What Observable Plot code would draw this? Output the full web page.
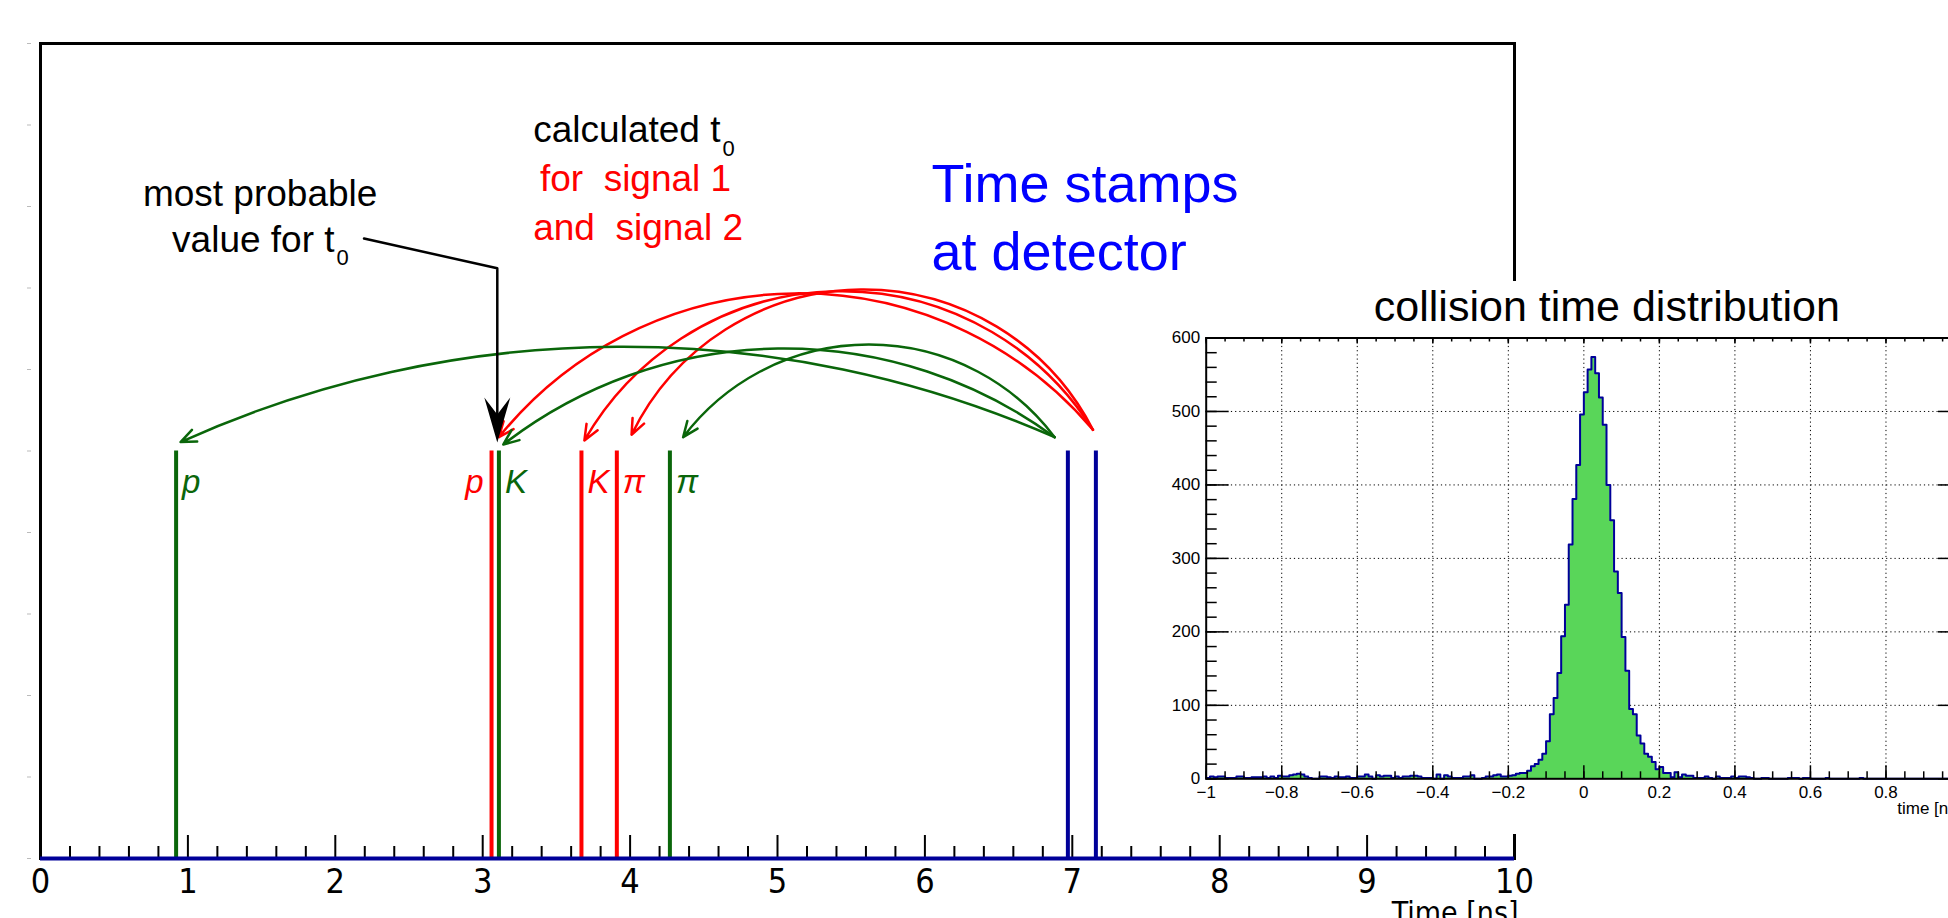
<!DOCTYPE html>
<html><head><meta charset="utf-8">
<script src="https://cdn.jsdelivr.net/npm/d3@7"></script>
<script src="https://cdn.jsdelivr.net/npm/@observablehq/plot@0.6"></script>
<style>
html,body{margin:0;padding:0;background:#fff;overflow:hidden;}
#wrap{position:relative;width:1948px;height:918px;overflow:hidden;background:#fff;}
#main,#inset{position:absolute;}
#main{left:0;top:0;width:1948px;height:918px;}
#inset{left:1140px;top:281px;width:835px;height:553px;}
#wrap svg{max-width:none !important;}
svg text{white-space:pre;}
</style></head>
<body><div id="wrap"><div id="main"></div><div id="inset"></div></div>
<script>
// ---------- data: time stamps (ns) ----------
const signalTime   = [0.92, 3.06, 3.11, 3.67, 3.91, 4.27, 6.97, 7.16];
const signalSeries = ["signal2", "signal1", "signal2", "signal1", "signal1", "signal2", "detector", "detector"];
const signalLabel  = ["p", "p", "K", "K", "π", "π", "", ""];
const signalHeight = 5;

// ---------- data: arcs from detector stamps to calculated t0 ----------
const arcSeries    = ["signal1", "signal1", "signal1", "signal2", "signal2", "signal2"];
const arcFromTime  = [7.14, 7.14, 7.14, 6.88, 6.88, 6.88];
const arcFromLevel = [5.26, 5.26, 5.26, 5.17, 5.17, 5.17];
const arcToTime    = [3.11, 3.69, 4.01, 0.95, 3.14, 4.36];
const arcToLevel   = [5.17, 5.13, 5.20, 5.11, 5.08, 5.17];

// ---------- data: collision time histogram ----------
const histStart = -1, histBinWidth = 0.01;
const histCounts = [
 1,3,2,3,3,1,1,1,3,3, 1,1,2,2,2,3,1,3,1,4, 3,3,5,6,7,6,3,1,0,0, 3,3,2,1,3,2,2,3,1,1,
 3,3,6,3,0,5,3,4,4,1, 3,1,3,3,4,4,3,1,1,1, 0,6,0,5,3,1,1,1,3,3, 5,0,0,1,3,3,5,6,3,3,
 4,5,7,8,8,11,17,20,26,34, 51,88,110,144,194,237,319,381,427,496,
 526,557,574,552,519,482,400,352,282,253, 193,147,95,88,59,48,34,30,23,13,
 16,8,8,2,9,2,6,4,
 4,1,1,1,3,1,0,3,1,1, 1,3,1,3,3,2,1,0,0,1, 1,0,0,0,0,0,1,1,1,0, 1,1,0,0,0,0,1,0,0,0,
 0,0,0,0,0,1,0,0,0,0, 0,0,0,0,0,0,0,0,0,0, 0,0,0,0,0,0,0,0,0,0, 0,0
];

// ---------- tick labels ----------
const mainTicks  = [0,1,2,3,4,5,6,7,8,9,10];
const insetXTicks = [-1,-0.8,-0.6,-0.4,-0.2,0,0.2,0.4,0.6,0.8,1];
const insetYTicks = [0,100,200,300,400,500,600];

// ---------- annotations ----------
const notes = [
  {text:"most probable", t:1.49, v:8.01, size:37, color:"black", anchor:"middle", dx:0},
  {text:"value for t",   t:1.995, v:7.44, size:37, color:"black", anchor:"end", dx:0},
  {text:"0",             t:1.995, v:7.28, size:22, color:"black", anchor:"start", dx:2},
  {text:"calculated t",  t:4.613, v:8.79, size:37, color:"black", anchor:"end", dx:0},
  {text:"0",             t:4.613, v:8.625, size:22, color:"black", anchor:"start", dx:2},
  {text:"for  signal 1", t:4.037, v:8.196, size:37, color:"#ff0000", anchor:"middle", dx:0},
  {text:"and  signal 2", t:4.054, v:7.583, size:37, color:"#ff0000", anchor:"middle", dx:0},
  {text:"Time stamps",   t:6.045, v:8.053, size:54, color:"#0000ff", anchor:"start", dx:0},
  {text:"at detector",   t:6.045, v:7.215, size:54, color:"#0000ff", anchor:"start", dx:0}
];
const pointerPath = [{t:2.195, v:7.607}, {t:3.099, v:7.242}, {t:3.099, v:5.45}];
const pointerTip = [{t:3.099, v:5.105}];

// ---------- styles ----------
const COLOR = {signal1:"#ff0000", signal2:"#0a660a", detector:"#000099"};
const arcBend = [-50.5, -59, -63.5, -24, -37, -53];
const labelSide = ["right","left","right","right","right","right","",""];
const labelLevel = 4.49;
const mainFont = "'Liberation Sans', Arial, Helvetica, sans-serif";
const axisFont = "'DejaVu Sans Condensed', 'DejaVu Sans', sans-serif";

const signals = signalTime.map((t, i) => ({t, series: signalSeries[i], label: signalLabel[i], side: labelSide[i], color: COLOR[signalSeries[i]]}));
const arcs = arcSeries.map((s, i) => ({x1: arcFromTime[i], y1: arcFromLevel[i], x2: arcToTime[i], y2: arcToLevel[i], color: COLOR[s], bend: arcBend[i]}));

const xMinor = d3.range(0, 51).map(i => i / 5).filter(v => !Number.isInteger(v));
const hiddenY = d3.range(0, 11);

const arrowHead = {draw(ctx) { ctx.moveTo(0, 0); ctx.lineTo(-13, -45); ctx.lineTo(0, -28); ctx.lineTo(13, -45); ctx.closePath(); }};

const main = Plot.plot({
  width: 1948, height: 918,
  marginLeft: 40, marginRight: 434, marginTop: 43, marginBottom: 60,
  x: {domain: [0, 10], axis: null},
  y: {domain: [0, 10], axis: null},
  style: {fontFamily: mainFont, background: "white"},
  marks: [
    Plot.frame({stroke: "black", strokeWidth: 3}),
    Plot.ruleY(hiddenY, {y: d => d, x1: 0, x2: 0, insetLeft: -13, insetRight: 9, stroke: "#bbbbbb", strokeWidth: 1}),
    Plot.ruleX(signals, {x: "t", y1: 0, y2: signalHeight, stroke: "color", strokeWidth: 4}),
    Plot.text(signals.filter(d => d.side === "right"), {x: "t", y: labelLevel, text: "label", fill: "color", textAnchor: "start", lineAnchor: "bottom", dx: 6, fontSize: 33, fontStyle: "italic"}),
    Plot.text(signals.filter(d => d.side === "left"), {x: "t", y: labelLevel, text: "label", fill: "color", textAnchor: "end", lineAnchor: "bottom", dx: -8, fontSize: 33, fontStyle: "italic"}),
    ...arcs.map(a => Plot.arrow([a], {x1: "x1", y1: "y1", x2: "x2", y2: "y2", stroke: a.color, strokeWidth: 2.5, bend: a.bend, headLength: 10, headAngle: 45})),
    Plot.line(pointerPath, {x: "t", y: "v", stroke: "black", strokeWidth: 2.5}),
    Plot.dot(pointerTip, {x: "t", y: "v", symbol: arrowHead, fill: "black", stroke: null, r: 10}),
    ...notes.map(n => Plot.text([n], {x: "t", y: "v", text: "text", fill: n.color, fontSize: n.size, textAnchor: n.anchor, lineAnchor: "bottom", dx: n.dx})),
    Plot.ruleX(mainTicks, {x: d => d, y1: 0, y2: 0, insetTop: -23, stroke: "black", strokeWidth: 2}),
    Plot.ruleX(xMinor, {x: d => d, y1: 0, y2: 0, insetTop: -12, stroke: "black", strokeWidth: 2}),
    Plot.ruleY([0], {stroke: "#000099", strokeWidth: 4}),
    Plot.axisX(mainTicks, {label: null, tickSize: 0, tickPadding: 10, fontSize: 34, fontFamily: axisFont, tickFormat: d => String(d)}),
    Plot.text(["Time [ns]"], {frameAnchor: "bottom-right", text: d => d, textAnchor: "end", lineAnchor: "bottom", dx: 4, dy: 64, fontSize: 30, fontFamily: axisFont})
  ]
});
document.getElementById("main").append(main);

// ---------- inset histogram ----------
const steps = histCounts.map((c, i) => ({x: histStart + i * histBinWidth, c}));
steps.push({x: histStart + histCounts.length * histBinWidth, c: histCounts[histCounts.length - 1]});

const ixMajor = d3.range(0, 11).map(i => Math.round((-1 + i * 0.2) * 100) / 100);
const ixMinor = d3.range(0, 41).map(i => Math.round((-1 + i * 0.05) * 100) / 100);
const iyMajor = d3.range(0, 7).map(i => i * 100);
const iyMinor = d3.range(0, 31).map(i => i * 20);
const gridX = ixMajor.filter(v => v > -1 && v < 1);
const gridY = iyMajor.filter(v => v > 0 && v < 600);
const fmt = d3.format("");

const inset = Plot.plot({
  width: 835, height: 553,
  marginLeft: 65.7, marginRight: 14, marginTop: 56.5, marginBottom: 55.7,
  x: {domain: [-1, 1], axis: null},
  y: {domain: [0, 600], axis: null},
  style: {fontFamily: mainFont, background: "white"},
  marks: [
    Plot.gridX(gridX, {stroke: "black", strokeOpacity: 1, strokeWidth: 1, strokeDasharray: "1.2,3"}),
    Plot.gridY(gridY, {stroke: "black", strokeOpacity: 1, strokeWidth: 1, strokeDasharray: "1.2,3"}),
    Plot.areaY(steps, {x: "x", y: "c", curve: "step-after", fill: "#59d659"}),
    Plot.line(steps, {x: "x", y: "c", curve: "step-after", stroke: "#000099", strokeWidth: 2}),
    Plot.frame({stroke: "black", strokeWidth: 2}),
    Plot.ruleX(ixMajor, {x: d => d, y1: 0, y2: 0, insetTop: -13, stroke: "black", strokeWidth: 1.5}),
    Plot.ruleX(ixMinor, {x: d => d, y1: 0, y2: 0, insetTop: -7, stroke: "black", strokeWidth: 1.5}),
    Plot.ruleX(ixMajor, {x: d => d, y1: 600, y2: 600, insetBottom: -6, stroke: "black", strokeWidth: 1.5}),
    Plot.ruleX(ixMinor, {x: d => d, y1: 600, y2: 600, insetBottom: -4, stroke: "black", strokeWidth: 1.5}),
    Plot.ruleY(iyMajor, {y: d => d, x1: -1, x2: -1, insetRight: -23, stroke: "black", strokeWidth: 1.5}),
    Plot.ruleY(iyMinor, {y: d => d, x1: -1, x2: -1, insetRight: -11, stroke: "black", strokeWidth: 1.5}),
    Plot.ruleY(iyMajor, {y: d => d, x1: 1, x2: 1, insetLeft: -23, stroke: "black", strokeWidth: 1.5}),
    Plot.ruleY(iyMinor, {y: d => d, x1: 1, x2: 1, insetLeft: -11, stroke: "black", strokeWidth: 1.5}),
    Plot.axisX(insetXTicks, {label: null, tickSize: 0, tickPadding: 7, fontSize: 17, tickFormat: d => fmt(d)}),
    Plot.axisY(insetYTicks, {label: null, tickSize: 0, tickPadding: 6, fontSize: 17, tickFormat: d => fmt(d)}),
    Plot.text(["collision time distribution"], {frameAnchor: "top", text: d => d, dx: 23, dy: -17.5, lineAnchor: "bottom", fontSize: 43}),
    Plot.text(["time [ns]"], {frameAnchor: "bottom-right", text: d => d, textAnchor: "end", lineAnchor: "bottom", dy: 35, fontSize: 17})
  ]
});
document.getElementById("inset").append(inset);
</script></body></html>
